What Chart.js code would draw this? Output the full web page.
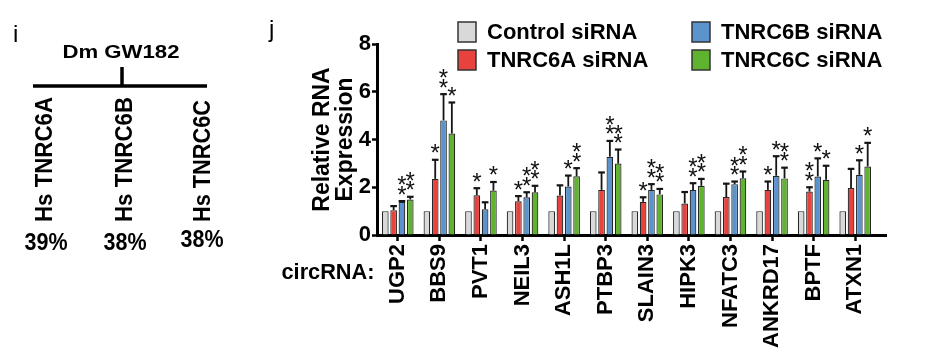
<!DOCTYPE html>
<html>
<head>
<meta charset="utf-8">
<script src="https://cdn.jsdelivr.net/npm/chart.js@4/dist/chart.umd.min.js"></script>
<style>
html,body{margin:0;padding:0;background:#fff;overflow:hidden;}
canvas{display:block;}
</style>
</head>
<body>
<canvas id="c" width="925" height="357"></canvas>
<script>
// ---------- data ----------
const categories = ['UGP2','BBS9','PVT1','NEIL3','ASH1L','PTBP3','SLAIN3','HIPK3','NFATC3','ANKRD17','BPTF','ATXN1'];
const seriesLabels = ['Control siRNA','TNRC6A siRNA','TNRC6B siRNA','TNRC6C siRNA'];

const controlValues = [1.00,1.00,1.00,1.00,1.00,1.00,1.00,1.00,1.00,1.00,1.00,1.00];
const tnrc6aValues  = [1.04,2.35,1.66,1.41,1.65,1.89,1.39,1.32,1.59,1.89,1.82,1.97];
const tnrc6bValues  = [1.39,4.80,1.08,1.58,2.03,3.28,1.89,1.89,2.13,2.48,2.45,2.52];
const tnrc6cValues  = [1.49,4.25,1.86,1.79,2.46,2.99,1.70,2.06,2.38,2.37,2.31,2.87];

const tnrc6aErrors  = [0.17,0.80,0.30,0.22,0.43,0.73,0.19,0.48,0.56,0.35,0.18,0.80];
const tnrc6bErrors  = [0.03,1.10,0.29,0.21,0.46,0.66,0.24,0.28,0.11,0.82,0.76,0.61];
const tnrc6cErrors  = [0.11,1.30,0.36,0.27,0.34,0.59,0.23,0.29,0.28,0.45,0.59,0.99];

const tnrc6aStars   = ['', '*', '*', '*', '', '', '*', '', '', '*', '**', ''];
const tnrc6bStars   = ['**','**','', '**','*','**','**','**','**','*','*','*'];
const tnrc6cStars   = ['**','*','*','**','**','**','**','**','**','**','*','*'];

const yTickValues = [0,2,4,6,8];

// panel i content
const treeRoot = 'Dm GW182';
const treeLeaves = ['Hs TNRC6A','Hs TNRC6B','Hs TNRC6C'];
const treeIdentity = ['39%','38%','38%'];

// ---------- styling ----------
const FONT = '"Liberation Sans", Arial, Helvetica, sans-serif';
const colors = ['#d9d9d9','#e8423f','#5b93cd','#60b32f'];
const errorSets = [null, tnrc6aErrors, tnrc6bErrors, tnrc6cErrors];
const starSets = [null, tnrc6aStars, tnrc6bStars, tnrc6cStars];

Chart.defaults.font.family = FONT;
Chart.defaults.color = '#000';

function fitText(ctx, text, x, y, font, width, align, rot) {
  ctx.save();
  ctx.font = font;
  const w = ctx.measureText(text).width;
  ctx.translate(x, y);
  if (rot) ctx.rotate(rot);
  ctx.scale(width / w, 1);
  ctx.textAlign = align || 'left';
  ctx.textBaseline = 'alphabetic';
  ctx.fillStyle = '#000';
  ctx.fillText(text, 0, 0);
  ctx.restore();
}

const errorBarPlugin = {
  id: 'errbars',
  afterDatasetsDraw(chart) {
    const ctx = chart.ctx;
    const ys = chart.scales.y;
    ctx.save();
    ctx.font = '24px ' + FONT;
    const m = ctx.measureText('*');
    const asc = m.actualBoundingBoxAscent, desc = m.actualBoundingBoxDescent;
    errorSets.forEach((errs, di) => {
      if (!errs) return;
      const meta = chart.getDatasetMeta(di);
      const vals = chart.data.datasets[di].data;
      meta.data.forEach((bar, i) => {
        const p = bar.getProps(['x','y','width'], true);
        const top = ys.getPixelForValue(vals[i] + errs[i]);
        ctx.strokeStyle = '#151515';
        ctx.lineWidth = 1.8;
        ctx.beginPath();
        ctx.moveTo(p.x, p.y);
        ctx.lineTo(p.x, top);
        ctx.stroke();
        ctx.lineWidth = 2.2;
        ctx.beginPath();
        ctx.moveTo(p.x - p.width/2, top);
        ctx.lineTo(p.x + p.width/2, top);
        ctx.stroke();
        const s = starSets[di][i];
        ctx.fillStyle = '#111';
        ctx.textAlign = 'center';
        ctx.textBaseline = 'alphabetic';
        for (let k = 0; k < s.length; k++) {
          const cy = top - 11 - k * 9.5;
          ctx.fillText(s[k], p.x, cy + (asc - desc) / 2);
        }
      });
    });
    ctx.restore();
  }
};

const decorPlugin = {
  id: 'decor',
  afterDraw(chart) {
    const ctx = chart.ctx;
    const ca = chart.chartArea;
    ctx.save();
    // extend x axis line
    ctx.strokeStyle = '#000';
    ctx.lineWidth = 3;
    ctx.beginPath();
    ctx.moveTo(ca.right - 2, ca.bottom + 0.5);
    ctx.lineTo(887, ca.bottom + 0.5);
    ctx.stroke();

    // panel letters
    ctx.fillStyle = '#000';
    ctx.font = '24px ' + FONT;
    ctx.textAlign = 'left';
    ctx.fillText('i', 13, 42);
    ctx.fillText('j', 269, 37);

    // circRNA label
    fitText(ctx, 'circRNA:', 328, 279, 'bold 22px ' + FONT, 93, 'center');

    // legend (column-major 2x2)
    const ds = chart.data.datasets;
    const colX = [458, 692], rowY = [22, 50];
    ds.forEach((d, i) => {
      const cx = colX[Math.floor(i / 2)], cy = rowY[i % 2];
      ctx.fillStyle = d.backgroundColor;
      ctx.fillRect(cx, cy, 18, 20);
      ctx.strokeStyle = '#333';
      ctx.lineWidth = 1.5;
      ctx.strokeRect(cx, cy, 18, 20);
      ctx.fillStyle = '#000';
      ctx.font = 'bold 22px ' + FONT;
      ctx.textAlign = 'left';
      ctx.textBaseline = 'middle';
      ctx.fillText(d.label, cx + 29, cy + 11);
    });
    ctx.textBaseline = 'alphabetic';

    // panel i tree
    fitText(ctx, treeRoot, 121, 58, 'bold 19px ' + FONT, 117, 'center');
    ctx.strokeStyle = '#000';
    ctx.lineWidth = 3.5;
    ctx.beginPath();
    ctx.moveTo(122, 67); ctx.lineTo(122, 86);
    ctx.moveTo(33, 86); ctx.lineTo(207, 86);
    ctx.stroke();
    const leafX = [43.5, 123.5, 201.5];
    treeLeaves.forEach((t, i) => {
      fitText(ctx, t, leafX[i] + 8.5, 222, 'bold 23px ' + FONT, t.endsWith('C') ? 122 : 125, 'left', -Math.PI / 2);
    });
    const pctX = [46, 125, 202], pctY = [250, 250, 247];
    treeIdentity.forEach((t, i) => {
      fitText(ctx, t, pctX[i], pctY[i], 'bold 23px ' + FONT, 43, 'center');
    });
    ctx.restore();
  }
};

const datasets = [controlValues, tnrc6aValues, tnrc6bValues, tnrc6cValues].map((vals, i) => ({
  label: seriesLabels[i],
  data: vals,
  backgroundColor: colors[i],
  borderColor: '#262626',
  borderWidth: 1.2,
  categoryPercentage: 0.8,
  barPercentage: 0.8
}));

new Chart(document.getElementById('c').getContext('2d'), {
  type: 'bar',
  data: { labels: categories, datasets },
  options: {
    responsive: false,
    animation: false,
    devicePixelRatio: 1,
    layout: { padding: { left: 311, right: 49, top: 44, bottom: 0 } },
    plugins: { legend: { display: false }, tooltip: { enabled: false } },
    scales: {
      x: {
        offset: true,
        grid: { display: true, drawOnChartArea: false, offset: false, tickLength: 6, tickWidth: 2.5, tickColor: '#000' },
        border: { display: true, color: '#000', width: 3 },
        ticks: { minRotation: 90, maxRotation: 90, autoSkip: false, padding: 3, color: '#000', font: { size: 22, weight: 'bold' } },
        afterFit(s) { s.height = 122; }
      },
      y: {
        min: 0, max: 8,
        afterBuildTicks(s) { s.ticks = yTickValues.map(v => ({ value: v })); },
        ticks: { padding: 1, color: '#000', font: { size: 22, weight: 'bold' } },
        grid: { display: true, drawOnChartArea: false, tickLength: 5, tickWidth: 2.5, tickColor: '#000' },
        border: { display: true, color: '#000', width: 3 },
        title: { display: true, text: ['Relative RNA', 'Expression'], color: '#000', padding: 0, font: { size: 23, weight: 'bold', lineHeight: 1.0 } },
        afterFit(s) { s.width = 66; }
      }
    }
  },
  plugins: [errorBarPlugin, decorPlugin]
});
</script>
</body>
</html>
